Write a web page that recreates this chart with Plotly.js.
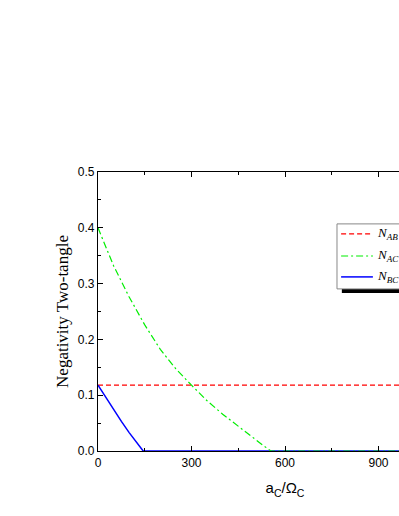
<!DOCTYPE html>
<html>
<head>
<meta charset="utf-8">
<script src="https://cdn.plot.ly/plotly-3.0.1.min.js"></script>
<style>
html,body{margin:0;padding:0;background:#fff;overflow:hidden;width:399px;height:516px;}
#chart{width:500px;height:516px;}
</style>
</head>
<body>
<div id="chart"></div>
<script>
// Data
const abX = [0, 200, 400, 600, 800, 1000, 1200];
const abY = [0.118, 0.118, 0.118, 0.118, 0.118, 0.118, 0.118];

const acX = [0, 50, 100, 150, 200, 250, 300, 350, 400, 450, 500, 530, 555, 600, 800, 1000, 1200];
const acY = [0.400, 0.332, 0.276, 0.226, 0.182, 0.147, 0.118, 0.090, 0.066, 0.044, 0.022, 0.010, 0.000, 0, 0, 0, 0];

const bcX = [0, 25, 50, 75, 100, 125, 145, 300, 600, 900, 1200];
const bcY = [0.118, 0.096, 0.075, 0.053, 0.033, 0.014, 0.000, 0, 0, 0, 0];

const names = ['<i>N</i><sub><i>AB</i></sub>', '<i>N</i><sub><i>AC</i></sub>', '<i>N</i><sub><i>BC</i></sub>'];
const xTicks = [0, 300, 600, 900];
const yTicks = [0, 0.1, 0.2, 0.3, 0.4, 0.5];

const styles = [
  {color: '#ff0000', width: 1.3, dash: '5px,3px'},
  {color: '#00ee00', width: 1.2, dash: '7px,3px,2px,3px'},
  {color: '#0000ff', width: 1.5}
];

const traces = [
  {x: abX, y: abY, name: names[0], mode: 'lines', line: styles[0]},
  {x: bcX, y: bcY, name: names[2], mode: 'lines', line: styles[2]},
  {x: acX, y: acY, name: names[1], mode: 'lines', line: styles[1]}
];

const axisCommon = {
  showline: true, linecolor: '#000', linewidth: 1.2, mirror: 'ticks',
  ticks: 'inside', ticklen: 5, tickwidth: 1, tickcolor: '#000',
  showgrid: false, zeroline: false,
  tickfont: {family: 'Liberation Sans, Arial, sans-serif', size: 12, color: '#000'}
};

// legend (drawn by hand in paper coordinates)
const legRows = [0.778, 0.699, 0.624];
const shapes = [
  {type: 'rect', xref: 'paper', yref: 'paper', x0: 0.652, x1: 1.1, y0: 0.566, y1: 0.581,
   fillcolor: '#000', line: {width: 0}, layer: 'above'},
  {type: 'rect', xref: 'paper', yref: 'paper', x0: 0.639, x1: 1.1, y0: 0.581, y1: 0.814,
   fillcolor: '#fff', line: {color: '#888', width: 1}, layer: 'above'}
];
const annotations = [];
names.forEach((n, i) => {
  shapes.push({type: 'line', xref: 'paper', yref: 'paper', x0: 0.650, x1: 0.735,
    y0: legRows[i], y1: legRows[i], line: styles[i], layer: 'above'});
  annotations.push({xref: 'paper', yref: 'paper', x: 0.741, y: legRows[i],
    xanchor: 'left', yanchor: 'middle', showarrow: false, text: n,
    font: {family: 'Liberation Serif, Times New Roman, serif', size: 13, color: '#000'}});
});

const layout = {
  width: 500, height: 516,
  margin: {l: 98, r: 28, t: 172, b: 65},
  paper_bgcolor: '#fff', plot_bgcolor: '#fff',
  showlegend: false,
  xaxis: Object.assign({}, axisCommon, {
    range: [0, 1200], tickvals: xTicks, ticktext: xTicks.map(String),
    minor: {dtick: 150, tick0: 0, ticks: 'inside', ticklen: 3, tickcolor: '#000'},
    title: {text: 'a<sub>C</sub>/Ω<sub>C</sub>', standoff: 14,
      font: {family: 'Liberation Sans, Arial, sans-serif', size: 15, color: '#000'}}
  }),
  yaxis: Object.assign({}, axisCommon, {
    range: [0, 0.5], tickvals: yTicks, ticktext: yTicks.map(v => v.toFixed(1)),
    minor: {dtick: 0.05, tick0: 0, ticks: 'inside', ticklen: 3, tickcolor: '#000'},
    title: {text: 'Negativity Two-tangle', standoff: 4,
      font: {family: 'Liberation Serif, Times New Roman, serif', size: 17, color: '#000'}}
  }),
  shapes: shapes,
  annotations: annotations
};

Plotly.newPlot('chart', traces, layout, {displayModeBar: false, staticPlot: true});
</script>
</body>
</html>
